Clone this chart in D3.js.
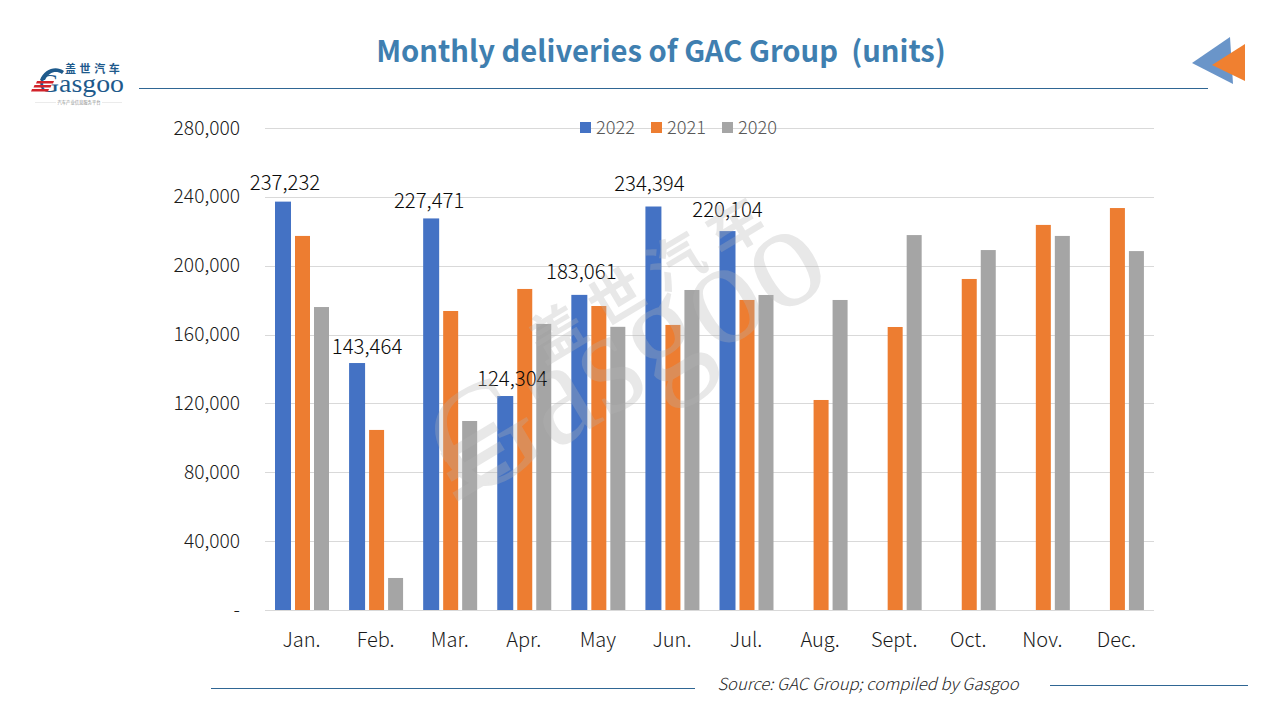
<!DOCTYPE html>
<html><head><meta charset="utf-8">
<script src="https://cdn.jsdelivr.net/npm/d3@7"></script>
<style>
html,body{margin:0;padding:0;background:#fff;}
svg{display:block;font-family:"Noto Sans CJK SC","Noto Sans",sans-serif;}
</style></head><body>
<svg id="c" width="1280" height="720"></svg>
<script>
const months = ["Jan.","Feb.","Mar.","Apr.","May","Jun.","Jul.","Aug.","Sept.","Oct.","Nov.","Dec."];
const seriesNames = ["2022","2021","2020"];
const v2022 = [237232,143464,227471,124304,183061,234394,220104,null,null,null,null,null];
const v2021 = [217300,104600,173700,186500,176600,165600,180100,122000,164400,192300,223700,233500];
const v2020 = [176000,18600,109800,166200,164500,185900,183000,180100,217800,209100,217300,208500];
const yTicks = [0,40000,80000,120000,160000,200000,240000,280000];
const colors = ["#4472c4","#ed7d31","#a5a5a5"];
const labelDx = [2,10,-2,7,2,-4,0];
const labelDy = [-18,-16,-17,-17,-22,-22,-21];

const svg = d3.select("#c");
const fmt = d3.format(",");
const x = d3.scaleBand().domain(months).range([265,1154]);
const y = d3.scaleLinear().domain([0,280000]).range([610,128]);
const inner = d3.scaleOrdinal().domain(seriesNames).range([10,30,49]);
const widths = {"2022":16,"2021":15,"2020":15};
const all = [v2022,v2021,v2020];
const light = 300;

// title
svg.append("text").attr("x",661).attr("y",62).attr("text-anchor","middle")
  .attr("font-size",29.2).attr("font-weight",700).attr("fill","#3f7fb0").attr("xml:space","preserve")
  .text("Monthly deliveries of GAC Group  (units)");
svg.append("line").attr("x1",139).attr("x2",1208).attr("y1",88.5).attr("y2",88.5).attr("stroke","#2f6694").attr("stroke-width",1);

// logo
const logo = svg.append("g");
logo.append("path").attr("d","M40,80 C44,69 56,65 64,71 L62,74 C56,70 49,72 45,80 Z").attr("fill","#1e5a8c");
logo.append("text").attr("x",65).attr("y",73).attr("font-size",11).attr("font-weight",700)
  .attr("letter-spacing",3.6).attr("fill","#1e5a8c").text("盖世汽车");
logo.append("text").attr("x",39).attr("y",92).attr("font-family","Liberation Serif").attr("font-size",25).attr("fill","#1e5a8c")
  .attr("textLength",85).attr("lengthAdjust","spacingAndGlyphs").text("Gasgoo");
d3.range(3).forEach(i=>{
  logo.append("polygon").attr("points",`${37-i*2.5},${81+i*4} ${54-i*2.5},${81+i*4} ${53-i*2.5},${83.4+i*4} ${36-i*2.5},${83.4+i*4}`).attr("fill","#d2232a");
});
logo.append("text").attr("x",79).attr("y",104).attr("text-anchor","middle").attr("font-size",4.3).attr("fill","#8a8a8a").text("汽车产业信息服务平台");
[[35,56],[102,122]].forEach(d=>logo.append("line").attr("x1",d[0]).attr("x2",d[1]).attr("y1",102.5).attr("y2",102.5).attr("stroke","#e2e2e2").attr("stroke-width",.7));

// arrows
svg.append("polygon").attr("points","1230,37 1192,63 1233,84").attr("fill","#6a95c9");
svg.append("polygon").attr("points","1245,44 1212,65 1245,81").attr("fill","#f08030");

// gridlines
svg.append("g").selectAll("line").data(yTicks).join("line")
  .attr("x1",265).attr("x2",1154).attr("y1",d=>Math.round(y(d))+.5).attr("y2",d=>Math.round(y(d))+.5)
  .attr("stroke","#d9d9d9").attr("stroke-width",1);

// y axis labels
svg.append("g").selectAll("text").data(yTicks).join("text")
  .attr("x",240).attr("y",d=>y(d)+6.5).attr("text-anchor","end").attr("font-size",19.2).attr("font-weight",light).attr("fill","#1a1a1a")
  .text(d=>d===0?"-":fmt(d));

// x labels
svg.append("g").selectAll("text").data(months).join("text")
  .attr("x",d=>x(d)+x.bandwidth()/2-.5).attr("y",647).attr("text-anchor","middle").attr("font-size",20).attr("font-weight",light).attr("fill","#1a1a1a")
  .text(d=>d);

// bars
seriesNames.forEach((name,si)=>{
  svg.append("g").selectAll("rect").data(all[si].map((v,i)=>({v,m:months[i]})).filter(d=>d.v!=null)).join("rect")
    .attr("x",d=>x(d.m)+inner(name)).attr("width",widths[name])
    .attr("y",d=>y(d.v)).attr("height",d=>y(0)-y(d.v)).attr("fill",colors[si]);
});

// data labels
svg.append("g").selectAll("text").data(v2022.filter(d=>d!=null)).join("text")
  .attr("x",(d,i)=>x(months[i])+18+labelDx[i]).attr("y",(d,i)=>y(d)+labelDy[i]+6.5)
  .attr("text-anchor","middle").attr("font-size",20.4).attr("font-weight",light).attr("fill","#0a0a0a").text(d=>fmt(d));

// legend
const lx = [580,651,722];
const lg = svg.append("g").selectAll("g").data(seriesNames).join("g").attr("transform",(d,i)=>`translate(${lx[i]},122)`);
lg.append("rect").attr("width",11).attr("height",11).attr("fill",(d,i)=>colors[i]);
lg.append("text").attr("x",16).attr("y",12).attr("font-size",18.2).attr("font-weight",light).attr("fill","#595959").text(d=>d);

// watermark
const wm = svg.append("g").attr("opacity",.3).attr("fill","#b4b4b4");
const wm1 = wm.append("g").attr("transform","translate(465,504) rotate(-31)");
wm1.append("text").attr("x",0).attr("y",0).attr("font-family","Liberation Serif")
  .attr("font-size",150).attr("textLength",432).attr("lengthAdjust","spacingAndGlyphs").text("Gasgoo");
d3.range(3).forEach(i=>wm1.append("rect").attr("x",5-i*5).attr("y",-56+i*20).attr("width",62).attr("height",10));
wm.append("g").attr("transform","translate(652,276) rotate(-31)").append("text").attr("y",20).attr("text-anchor","middle")
  .attr("font-size",55).attr("font-weight",700).attr("letter-spacing",14).text("盖世汽车");

// footer
svg.append("line").attr("x1",211).attr("x2",695).attr("y1",688.5).attr("y2",688.5).attr("stroke","#2f6694");
svg.append("line").attr("x1",1050).attr("x2",1248).attr("y1",685.5).attr("y2",685.5).attr("stroke","#2f6694");
svg.append("text").attr("x",868).attr("y",690).attr("text-anchor","middle").attr("font-size",16.6).attr("font-style","italic").attr("font-weight",light).attr("fill","#222")
  .text("Source: GAC Group; compiled by Gasgoo");
</script>
</body></html>
